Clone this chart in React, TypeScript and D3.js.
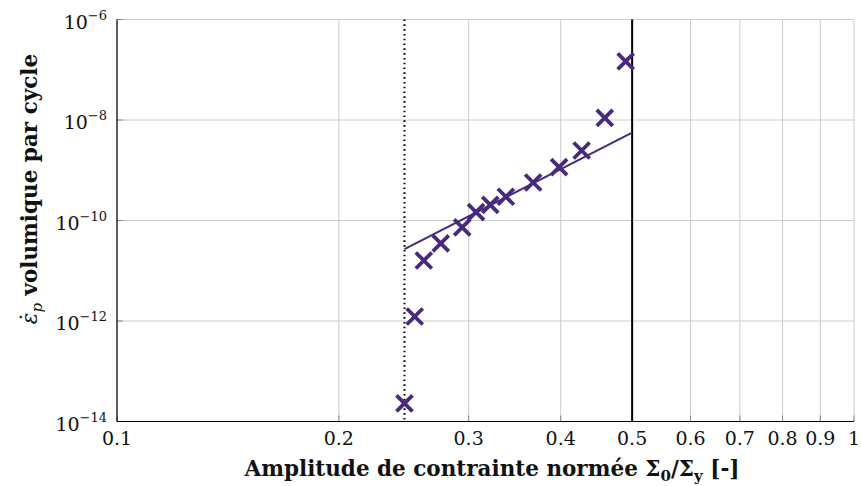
import React from "react";
import * as d3 from "d3";

const amplitude = [0.2455, 0.2535, 0.2608, 0.275, 0.294, 0.307, 0.321, 0.337, 0.367, 0.398, 0.427, 0.459, 0.49];
const strainRate = [2.3e-14, 1.23e-12, 1.6e-11, 3.5e-11, 7.3e-11, 1.47e-10, 2.05e-10, 2.97e-10, 5.7e-10, 1.15e-9, 2.47e-9, 1.1e-8, 1.47e-7];
const fitX = [0.2455, 0.5];
const fitY = [2.7e-11, 5.6e-9];
const xTicks = [0.1, 0.2, 0.3, 0.4, 0.5, 0.6, 0.7, 0.8, 0.9, 1];
const xTickLabels = ["0.1", "0.2", "0.3", "0.4", "0.5", "0.6", "0.7", "0.8", "0.9", "1"];
const yTicks = [1e-14, 1e-12, 1e-10, 1e-8, 1e-6];
const yTickExps = ["−14", "−12", "−10", "−8", "−6"];
const thresholdLow = 0.2455;
const thresholdHigh = 0.5;

const W = 861, H = 486;
const L = 117, R = 854, T = 19.5, B = 421.5;
const color = "#472a7d";
const font = "DejaVu Serif";

export default function App() {
  const x = d3.scaleLog().domain([0.1, 1]).range([L, R]);
  const y = d3.scaleLog().domain([1e-14, 1e-6]).range([B, T]);
  const line = d3.line<number>().x((_, i) => x(fitX[i])).y((d) => y(d));
  const s = 8;
  return (
    <svg width={W} height={H} style={{ position: "absolute", left: 0, top: 0, background: "#fff", fontFamily: font }}>
      {xTicks.map((t) => (
        <line key={"gx" + t} x1={x(t)} x2={x(t)} y1={T} y2={B} stroke="#cccccc" strokeWidth={1} />
      ))}
      {yTicks.map((t) => (
        <line key={"gy" + t} x1={L} x2={R} y1={y(t)} y2={y(t)} stroke="#cccccc" strokeWidth={1} />
      ))}
      {xTicks.map((t) => (
        <line key={"tx" + t} x1={x(t)} x2={x(t)} y1={B} y2={B - 6} stroke="#888" strokeWidth={1} />
      ))}
      {yTicks.map((t) => (
        <line key={"ty" + t} x1={L} x2={L + 6} y1={y(t)} y2={y(t)} stroke="#888" strokeWidth={1} />
      ))}
      <line x1={x(thresholdLow)} x2={x(thresholdLow)} y1={T} y2={B} stroke="#000" strokeWidth={2} strokeDasharray="1.6 3.2" />
      <line x1={x(thresholdHigh)} x2={x(thresholdHigh)} y1={T} y2={B} stroke="#000" strokeWidth={2} />
      <path d={line(fitY) || ""} fill="none" stroke={color} strokeWidth={2} />
      {amplitude.map((a, i) => {
        const cx = x(a), cy = y(strainRate[i]);
        return (
          <g key={"m" + i} stroke={color} strokeWidth={3.8}>
            <line x1={cx - s} y1={cy - s} x2={cx + s} y2={cy + s} />
            <line x1={cx - s} y1={cy + s} x2={cx + s} y2={cy - s} />
          </g>
        );
      })}
      <line x1={L} x2={L} y1={T} y2={B} stroke="#000" strokeWidth={1.2} />
      <line x1={L} x2={R} y1={B} y2={B} stroke="#000" strokeWidth={1.2} />
      {xTicks.map((t, i) => (
        <text key={"lx" + t} x={x(t)} y={B + 23} textAnchor="middle" fontSize={19} fill="#111">
          {xTickLabels[i]}
        </text>
      ))}
      {yTicks.map((t, i) => (
        <text key={"ly" + t} x={L - 10} y={y(t) + 9} textAnchor="end" fontSize={19} fill="#111">
          10<tspan dy={-9} fontSize={13}>{yTickExps[i]}</tspan>
        </text>
      ))}
      <text x={492} y={476} textAnchor="middle" fontSize={21.5} fontWeight="bold" fill="#111">
        Amplitude de contrainte normée Σ<tspan dy={5} fontSize={15}>0</tspan><tspan dy={-5}>/Σ</tspan><tspan dy={5} fontSize={15}>y</tspan><tspan dy={-5}> [-]</tspan>
      </text>
      <text transform="translate(37,189) rotate(-90)" textAnchor="middle" fontSize={21.5} fill="#111">
        <tspan fontStyle="italic">ε̇</tspan><tspan fontStyle="italic" fontSize={15} dy={5}>p</tspan><tspan dy={-5} fontWeight="bold"> volumique par cycle</tspan>
      </text>
    </svg>
  );
}
